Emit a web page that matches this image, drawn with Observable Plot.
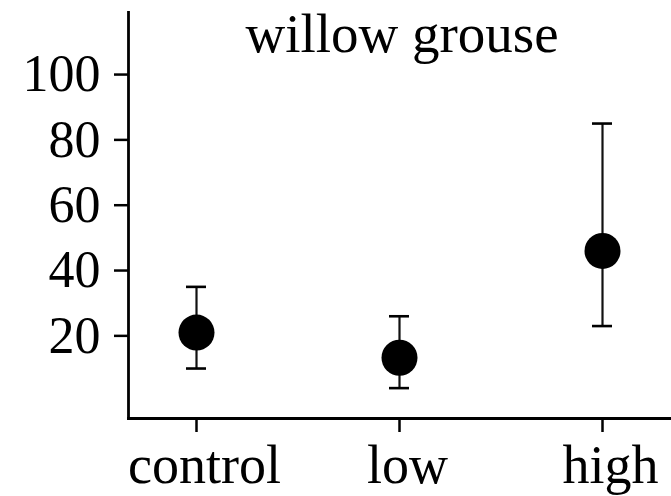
<!DOCTYPE html>
<html>
<head>
<meta charset="utf-8">
<script src="https://cdn.jsdelivr.net/npm/d3@7"></script>
<script src="https://cdn.jsdelivr.net/npm/@observablehq/plot@0.6"></script>
<style>
  html, body { margin: 0; padding: 0; background: white; }
</style>
</head>
<body>
<div id="chart"></div>
<script>
const categories = ["control", "low", "high"];
const means = [21, 13.3, 46];
const upper = [35, 26, 85];
const lower = [10, 4, 23];
const yTicks = [20, 40, 60, 80, 100];
const title = "willow grouse";

const data = categories.map((c, i) => ({cat: c, mean: means[i], hi: upper[i], lo: lower[i]}));

const chart = Plot.plot({
  width: 671,
  height: 496,
  marginLeft: 128,
  marginRight: 0,
  marginTop: 12,
  marginBottom: 78,
  style: {fontFamily: "'Liberation Serif', 'Times New Roman', serif", fontSize: "52px", background: "white", color: "black"},
  x: {type: "band", domain: categories, paddingInner: 0.9, paddingOuter: 0.285},
  y: {domain: [-5.3, 119]},
  marks: [
    Plot.axisY({ticks: yTicks, tickSize: 14, tickPadding: 14, fontSize: 52, strokeWidth: 2.5, label: null}),
    Plot.axisX({tickSize: 14, tickFormat: () => "", strokeWidth: 2.5, label: null}),
    Plot.axisX({tickSize: 0, tickPadding: 26, fontSize: 54, dx: 8, label: null}),
    Plot.frame({anchor: "left", strokeWidth: 2.8}),
    Plot.frame({anchor: "bottom", strokeWidth: 2.8}),
    Plot.ruleX(data, {x: "cat", y1: "lo", y2: "hi", strokeWidth: 2.2, stroke: "#111"}),
    Plot.tickY(data, {x: "cat", y: "hi", strokeWidth: 2.6}),
    Plot.tickY(data, {x: "cat", y: "lo", strokeWidth: 2.6}),
    Plot.dot(data, {x: "cat", y: "mean", r: 18, fill: "black"}),
    Plot.text([title], {frameAnchor: "top", lineAnchor: "top", fontSize: 55, dx: 2, text: d => d})
  ]
});
document.getElementById("chart").appendChild(chart);
</script>
</body>
</html>
